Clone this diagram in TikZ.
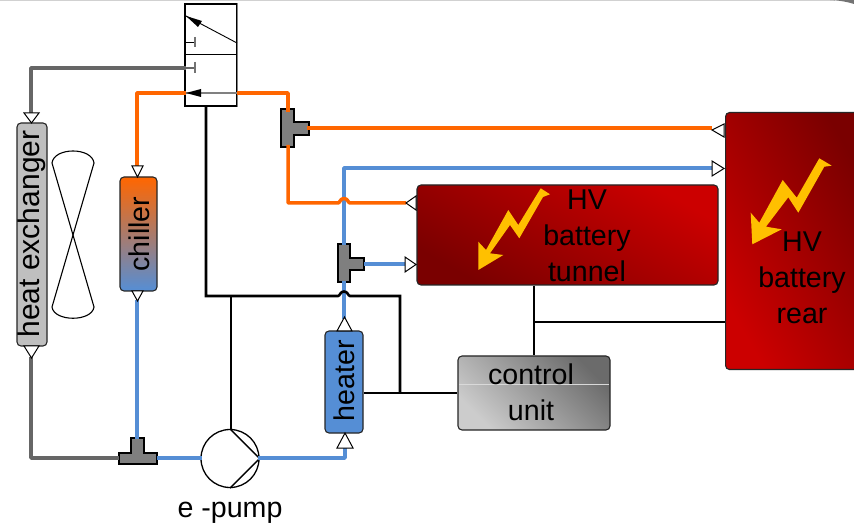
\documentclass[tikz,border=0pt]{standalone}
\usepackage{fontspec}
\setmainfont{Liberation Sans}
\definecolor{orangeline}{HTML}{FF6600}
\definecolor{blueline}{HTML}{558ED5}
\definecolor{grayline}{HTML}{666666}
\definecolor{teefill}{HTML}{7F7F7F}
\definecolor{redA}{HTML}{CC0000}
\definecolor{redB}{HTML}{7A0000}
\definecolor{bolt}{HTML}{FFC000}
\tikzset{
  box/.style={draw=black!85,line width=1.1pt,rounded corners=4pt,inner sep=0pt,align=center},
  lbl/.style={font=\fontsize{28.6}{36}\selectfont,inner sep=0pt,text=black,align=center},
  pipeO/.style={draw=orangeline,line width=3.5pt,line join=round},
  pipeB/.style={draw=blueline,line width=3.5pt,line join=round},
  pipeG/.style={draw=grayline,line width=3.5pt,line join=round},
  sig/.style={draw=black,line width=2.6pt,line join=miter},
  port/.style={draw=black,fill=white,line width=1pt,line join=miter},
  teeshape/.style={draw=black,fill=teefill,line width=1.1pt},
  fin/.style={draw=black,line width=1.1pt,fill=white},
  boltshape/.style={fill=bolt,draw=none},
}
\begin{document}
\begin{tikzpicture}[x=1pt,y=-1pt]
\useasboundingbox (0,0) rectangle (854,526);
\fill[white] (0,0) rectangle (854,526);
% slide edge
\draw[black!18,line width=1.6pt] (0,0.5) -- (835,0.5);
\fill[black!55] (830,0) .. controls (840,0.5) and (848,2) .. (854,4) -- (854,0) -- cycle;

% components
\node[box,fill=black!25,minimum width=30pt,minimum height=223pt] (hx) at (32,234.5) {};
\node[lbl,rotate=90,font=\fontsize{30}{36}\selectfont] (hxt) at (32,234) {heat exchanger};
\node[box,shade,top color=orangeline,bottom color=blueline,minimum width=37pt,minimum height=114pt] (chiller) at (138.5,234) {};
\node[lbl,rotate=90] (chillert) at (139,234) {chiller};
\node[box,fill=blueline,minimum width=38pt,minimum height=102pt] (heater) at (344,382) {};
\node[lbl,rotate=90] (heatert) at (344,381) {heater};
\node[box,shade,bottom color=redB,middle color=redA,top color=redA,shading angle=-30,minimum width=301pt,minimum height=100pt] (tunnel) at (567.5,235) {};
\node[box,shade,bottom color=redA,middle color=redA,top color=redB,shading angle=-60,minimum width=140pt,minimum height=257pt,anchor=north west] (rear) at (725,112) {};
\node[box,shade,bottom color=black!20,top color=black!58,shading angle=-45,minimum width=152pt,minimum height=74pt] (ctrl) at (534,393) {};
\draw[white!85!black,line width=0.7pt] (459,384) -- (609,384);
\node[lbl] (ctrlt) at (531,392) {control\\unit};
\node[lbl] (tunnelt) at (587,236) {HV\\battery\\tunnel};
\node[lbl] (reart) at (802,278) {HV\\battery\\rear};

% bolts
\path[boltshape] (540.7,188.3) -- (550,194.3) -- (543,197) -- (519.3,238.3) -- (510,225) -- (490,253.3) -- (503.3,255) -- (478.3,270) -- (478.3,241.7) -- (486,250) -- (508.3,210) -- (518.3,225) -- cycle;
\path[boltshape] (819.3,158.3) -- (831.7,165.7) -- (824.3,166.7) -- (798.3,212.7) -- (788.3,197.3) -- (766,226.7) -- (781.7,229.3) -- (752.3,244.3) -- (750.7,212.7) -- (759.3,222.7) -- (782.7,180) -- (796.7,197.7) -- cycle;

% fan
\draw[fin] (73,235) -- (52,163) .. controls (54,147) and (92,147) .. (94,163) -- cycle;
\draw[fin] (73,235) -- (52,307) .. controls (54,322) and (92,322) .. (94,307) -- cycle;

% valve
\node[draw=black,line width=1.1pt,minimum width=52pt,minimum height=102pt,inner sep=0pt] (valve) at (211,55) {};
\draw[black!50,line width=1.4pt] (valve.north east) -- (valve.south east);
\coordinate (vm1) at (185,54); \coordinate (vm2) at (237,54);
\draw[black,line width=0.9pt] (vm1) -- (vm2);
\coordinate (d1) at (186,16); \coordinate (d2) at (237,43);
\draw[black,line width=0.9pt] (d1) -- (d2);
\fill[black] (186,16) -- (202,21) -- (198,27) -- cycle;
\coordinate (vT1) at (195,42); \coordinate (vT2) at (186,68);
\draw[black,line width=0.9pt] (186,42) -- (vT1);
\draw[black!55,line width=1.1pt] (195,37) -- (195,47);
\draw[grayline,line width=1.1pt] (vT2) -- (195,68);
\draw[black!55,line width=1.1pt] (195,62) -- (195,73);
\coordinate (vL) at (186,93); \coordinate (vR) at (237,93);
\draw[black!50,line width=1.4pt] (vL) -- (vR);
\fill[black] (186,93) -- (201,89) -- (201,97) -- cycle;

% tees
\path[teeshape] (281,109) -- (294,109) -- (294,122) -- (309,122) -- (309,135) -- (294,135) -- (294,147) -- (281,147) -- cycle;
\path[teeshape] (338,244) -- (350,244) -- (350,258) -- (364,258) -- (364,270) -- (350,270) -- (350,282) -- (338,282) -- cycle;
\path[teeshape] (131,438) -- (144,438) -- (144,453) -- (157,453) -- (157,464) -- (119,464) -- (119,453) -- (131,453) -- cycle;
\coordinate (t1top) at (288,112); \coordinate (t1bot) at (288,145); \coordinate (t1r) at (307,128);
\coordinate (t2top) at (344,245); \coordinate (t2bot) at (344,281); \coordinate (t2r) at (364,264);
\coordinate (t3top) at (137,439); \coordinate (t3l) at (119,458); \coordinate (t3r) at (157,458);

% pump
\node[draw=black,line width=1.3pt,circle,minimum size=58pt,inner sep=0pt] (pump) at (230,458.5) {};
\draw[black,line width=1.3pt] (pump.north) -- (pump.east) -- (pump.south);
\node[lbl] (pumpt) at (230,513) {e -pump};

% ports
\coordinate (pHXt) at (31,114); \coordinate (pHXb) at (31,357);
\coordinate (pCh) at (137,167); \coordinate (pCb) at (137,300);
\coordinate (pHe) at (344,319); \coordinate (pHb) at (345,447);
\coordinate (pTo) at (406,203); \coordinate (pTb) at (406,264);
\coordinate (pRo) at (712,128); \coordinate (pRb) at (712,168);

% pipes
\draw[pipeG] (vT2) -- (31,68) -- (pHXt);
\draw[pipeG,line width=3.4pt] (pHXb) -- (31,458) -- (t3l);
\draw[pipeO] (vL) -- (137,93) -- (pCh);
\draw[pipeO] (vR) -- (288,93) -- (t1top);
\draw[pipeO] (t1r) -- (pRo);
\draw[pipeB] (pRb) -- (344,168) -- (t2top);
\draw[pipeB] (t2r) -- (pTb);
\draw[pipeB] (t2bot) -- (pHe);
\draw[pipeB] (pCb) -- (t3top);
\draw[pipeB] (t3r) -- (202,458);
\draw[pipeB] (258,458) -- (345,458) -- (pHb);
\draw[pipeO] (t1bot) -- (288,203) -- (338,203) .. controls (340,203) and (340,198.5) .. (344,198.5) .. controls (348,198.5) and (348,203) .. (350,203) -- (pTo);

% port triangles
\path[port] (24,113) -- (39,113) -- (31.5,123) -- cycle;
\path[port] (24,346) -- (39,346) -- (31.5,358) -- cycle;
\path[port] (132,166) -- (143,166) -- (137.5,177) -- cycle;
\path[port] (132,291) -- (143,291) -- (137.5,301) -- cycle;
\path[port] (337,331) -- (352,331) -- (344.5,317) -- cycle;
\path[port] (337,448) -- (353,448) -- (345,433) -- cycle;
\path[port] (416,196) -- (416,210) -- (406,203) -- cycle;
\path[port] (405,257) -- (405,272) -- (416,264.5) -- cycle;
\path[port] (724,124) -- (724,137) -- (712,130) -- cycle;
\path[port] (712,161) -- (712,176) -- (724,168.5) -- cycle;

% signal lines
\draw[sig] (valve.south -| 206,106) -- (206,296) -- (338,296) .. controls (340,296) and (340,291.5) .. (344,291.5) .. controls (348,291.5) and (348,296) .. (350,296) -- (400,296) -- (400,393);
\draw[sig] (231,296) -- (231,429.5);
\draw[sig] (heater.east |- 0,393) -- (ctrl.west |- 0,393);
\draw[sig] (tunnel.south -| 534,285) -- (ctrl.north -| 534,356);
\draw[sig] (534,322) -- (rear.west |- 0,322);
\end{tikzpicture}
\end{document}
